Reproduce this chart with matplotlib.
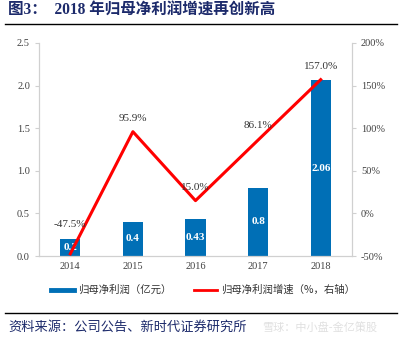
import matplotlib.pyplot as plt
from matplotlib.lines import Line2D

plt.rcParams['font.family'] = ['Liberation Serif', 'Noto Sans CJK SC', 'DejaVu Sans']

years = ["2014", "2015", "2016", "2017", "2018"]
profit = [0.2, 0.4, 0.43, 0.8, 2.06]
growth = [-47.5, 95.9, 15.0, 86.1, 157.0]
left_ticks = [0.0, 0.5, 1.0, 1.5, 2.0, 2.5]
right_ticks = [-50, 0, 50, 100, 150, 200]

BLUE = "#006FB6"
RED = "#FF0000"
NAVY = "#1C2A6B"
GRAY = "#404040"

fig = plt.figure(figsize=(4.04, 3.39), dpi=100)
W, H = 404, 339
ax = fig.add_axes([39 / W, 1 - 256 / H, (352 - 39) / W, (256 - 43) / H])
ax2 = ax.twinx()

x = range(len(years))
ax.bar(x, profit, width=0.32, color=BLUE, zorder=2)
for i, v in enumerate(profit):
    ax.text(i, v / 2, f"{v:g}", ha="center", va="center",
            color="white", fontsize=8, fontweight="bold")

ax2.plot(x, growth, color=RED, lw=2.2, zorder=3)
offsets = [(0, 18), (0, 6), (0, 6), (0, 7), (0, 6)]
for i, g in enumerate(growth):
    dx, dy = offsets[i]
    ax2.annotate(f"{g:.1f}%", (i, g), xytext=(dx, dy), textcoords="offset points",
                 ha="center", va="bottom", fontsize=8, color="#333333")

ax.set_xlim(-0.5, 4.5)
ax.set_ylim(0, 2.5)
ax2.set_ylim(-50, 200)
ax.set_yticks(left_ticks)
ax.set_yticklabels([f"{t:.1f}" for t in left_ticks])
ax2.set_yticks(right_ticks)
ax2.set_yticklabels([f"{t}%" for t in right_ticks])
ax.set_xticks(list(x))
ax.set_xticklabels(years)

for a in (ax, ax2):
    for s in a.spines.values():
        s.set_visible(False)
    a.tick_params(colors="#D0D0D0", labelcolor=GRAY, labelsize=7.5, length=3, width=0.8)
ax.spines["left"].set_visible(True)
ax.spines["bottom"].set_visible(True)
ax2.spines["right"].set_visible(True)
for s in (ax.spines["left"], ax.spines["bottom"], ax2.spines["right"]):
    s.set_color("#D0D0D0")
    s.set_linewidth(0.9)
ax.tick_params(axis="x", length=0, pad=4)

# legend below the plot
handles = [Line2D([], [], color=BLUE, lw=3.5), Line2D([], [], color=RED, lw=2)]
fig.legend(handles, ["归母净利润（亿元）", "归母净利润增速（%，右轴）"],
           loc="center", bbox_to_anchor=(203 / W, 1 - 290 / H), ncol=2, frameon=False,
           prop={"family": ["Noto Sans CJK SC"], "size": 7.5}, handlelength=2.2,
           handletextpad=0.4, columnspacing=2.2, labelcolor="#333333")

# title and source
fig.text(8 / W, 1 - 11 / H, "图3：  2018 年归母净利润增速再创新高", ha="left", va="center",
         fontsize=11.2, fontweight="bold", color=NAVY,
         family=["Liberation Serif", "Noto Sans CJK SC"])
fig.add_artist(Line2D([5 / W, 397 / W], [1 - 23.5 / H, 1 - 23.5 / H], color="black", lw=1))
fig.add_artist(Line2D([5 / W, 397 / W], [1 - 313 / H, 1 - 313 / H], color="black", lw=1))
fig.text(8 / W, 1 - 327 / H, "资料来源：公司公告、新时代证券研究所", ha="left", va="center",
         fontsize=9.5, color=NAVY, family=["Noto Sans CJK SC"])
fig.text(262 / W, 1 - 327 / H, "雪球：中小盘-金亿策股", ha="left", va="center",
         fontsize=8, color="#E0E0E0", family=["Noto Sans CJK SC"])

fig.savefig("out.png", dpi=100)
